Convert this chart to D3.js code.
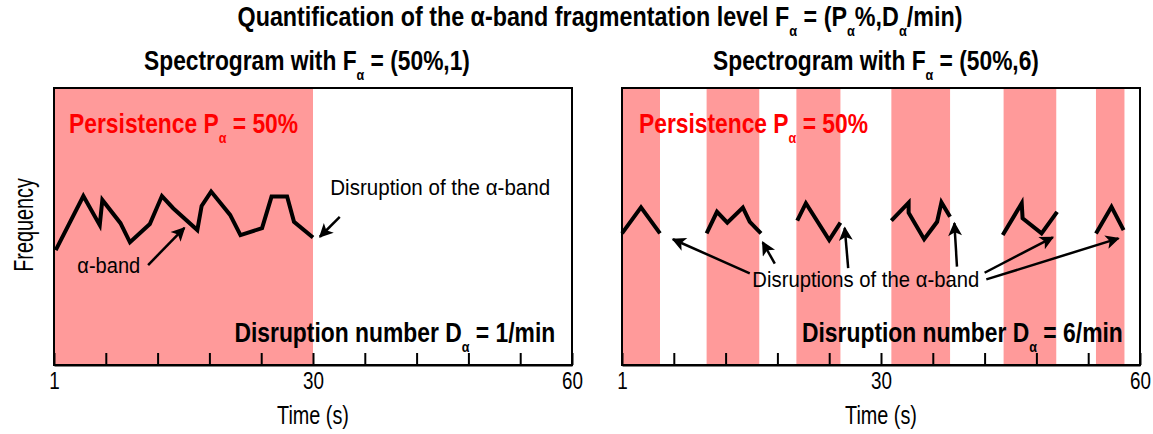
<!DOCTYPE html>
<html>
<head>
<style>
  body { margin: 0; background: #fff; }
  svg text { font-family: "Liberation Sans", Arial, Helvetica, sans-serif; }
</style>
</head>
<body>
<script src="https://d3js.org/d3.v7.min.js"></script>
<script>
// ---- data (time in s, frequency in arbitrary units 0-100) ----
const xTickValues = [0, 6, 12, 18, 24, 30, 36, 42, 48, 54, 60];
const xTickLabels = ['1', '', '', '', '', '30', '', '', '', '', '60'];

// left spectrogram: one continuous alpha band, persistence 0-30 s
const leftPersistStart = [0];
const leftPersistEnd = [30];
const leftTime = [0.2, 3.4, 5.3, 5.6, 7.7, 8.8, 11.1, 12.5, 13.8, 16.6, 17.1, 18.2, 20.4, 21.6, 24.1, 25.2, 27.0, 27.8, 30.0];
const leftFreq = [41.5, 61.0, 50.5, 59.6, 51.2, 44.3, 50.9, 61.0, 56.6, 48.7, 57.4, 62.6, 54.2, 46.9, 49.4, 60.8, 60.8, 51.7, 46.0];

// right spectrogram: six fragments
const rightPersistStart = [0, 9.8, 20.2, 31.2, 44.2, 54.9];
const rightPersistEnd = [4.4, 15.9, 25.3, 38.0, 50.3, 58.2];
const rightSegTime = [
  [0, 2.2, 4.4],
  [9.8, 11.0, 12.2, 14.0, 14.8, 16.1],
  [20.3, 21.3, 24.0, 25.3],
  [31.2, 33.2, 33.2, 35.0, 36.5, 37.0, 38.0],
  [44.1, 46.3, 46.4, 48.6, 50.4],
  [54.9, 56.7, 58.1]
];
const rightSegFreq = [
  [47.5, 56.9, 47.5],
  [47.5, 55.3, 51.4, 56.8, 51.7, 47.5],
  [52.1, 58.4, 45.1, 51.4],
  [52.1, 58.6, 55.0, 45.4, 51.7, 58.7, 53.5],
  [46.9, 58.4, 53.0, 47.5, 55.3],
  [47.5, 57.1, 48.7]
];

// annotation arrows: [tailT, tailF, tipT, tipF]
const leftArrows = [[10.9, 36.1, 15.1, 49.5], [33.1, 53.5, 30.8, 46.3]];
const rightArrows = [
  [14.8, 33.1, 5.9, 45.4],
  [17.7, 36.6, 16.3, 44.3],
  [26.2, 35.0, 25.8, 49.5],
  [38.8, 35.5, 38.5, 51.2],
  [42.0, 33.3, 49.9, 46.1],
  [42.2, 30.9, 57.5, 45.7]
];

const title = ['Quantification of the α-band fragmentation level F', '_α', ' = (P', '_α', '%,D', '_α', '/min)'];

// ---- layout ----
const W = 1153, H = 434;
const plotW = 518, plotH = 277, plotTop = 88;
const pink = '#ff9a9a';

const svg = d3.select('body').append('svg')
  .attr('width', W).attr('height', H);

svg.append('defs').append('marker')
  .attr('id', 'head')
  .attr('viewBox', '0 0 10 10')
  .attr('refX', 9).attr('refY', 5)
  .attr('markerWidth', 18).attr('markerHeight', 14)
  .attr('markerUnits', 'userSpaceOnUse')
  .attr('orient', 'auto')
  .append('path')
  .attr('d', 'M0,0L10,5L0,10L2.5,5z')
  .attr('fill', '#000');

const x = d3.scaleLinear().domain([0, 60]).range([0, plotW]);
const y = d3.scaleLinear().domain([0, 100]).range([plotH, 0]);

// text with subscripts, squeezed to a target width
function richText(parent, parts, opt) {
  const t = parent.append('text')
    .attr('x', 0).attr('y', 0)
    .attr('font-size', opt.size)
    .attr('font-weight', opt.bold ? 'bold' : 'normal')
    .attr('fill', opt.fill || '#000')
    .attr('text-anchor', opt.anchor || 'start');
  let down = false;
  const sd = opt.size * 0.36;
  parts.forEach(p => {
    const sub = p[0] === '_';
    const s = t.append('tspan').text(sub ? p.slice(1) : p);
    if (sub) { s.attr('font-size', opt.size * 0.55).attr('dy', sd); down = true; }
    else if (down) { s.attr('dy', -sd); down = false; }
  });
  const w = t.node().getBBox().width;
  const k = opt.width ? opt.width / w : 1;
  t.attr('transform', `translate(${opt.x},${opt.y})${opt.rotate ? ' rotate(' + opt.rotate + ')' : ''} scale(${k},1)`);
  return t;
}

richText(svg, title, { x: 600, y: 26, size: 27, bold: true, anchor: 'middle', width: 725 });

const panels = [
  {
    left: 54, sub: '1', bandsStart: leftPersistStart, bandsEnd: leftPersistEnd,
    segT: [leftTime], segF: [leftFreq], arrows: leftArrows,
    subtitleX: 307, dnX: 20.9, pX: 1.75,
    note: { parts: ['Disruption of the α-band'], t: 32.0, f: 61.4, width: 220 },
    note2: { parts: ['α-band'], t: 2.7, f: 33.2, width: 63 }
  },
  {
    left: 622, sub: '6', bandsStart: rightPersistStart, bandsEnd: rightPersistEnd,
    segT: rightSegTime, segF: rightSegFreq, arrows: rightArrows,
    subtitleX: 876, dnX: 20.85, pX: 1.97,
    note: { parts: ['Disruptions of the α-band'], t: 15.1, f: 28.2, width: 227 }
  }
];

panels.forEach(p => {
  richText(svg, ['Spectrogram with F', '_α', ' = (50%,' + p.sub + ')'],
    { x: p.subtitleX, y: 70, size: 27, bold: true, anchor: 'middle', width: 326 });

  const g = svg.append('g').attr('transform', `translate(${p.left},${plotTop})`);

  g.selectAll('rect.band')
    .data(p.bandsStart.map((s, i) => [s, p.bandsEnd[i]]))
    .join('rect')
    .attr('class', 'band')
    .attr('x', d => x(d[0]))
    .attr('width', d => x(d[1]) - x(d[0]))
    .attr('y', 0).attr('height', plotH)
    .attr('fill', pink);

  const line = d3.line().x(d => x(d[0])).y(d => y(d[1]));
  g.selectAll('path.alpha')
    .data(p.segT.map((ts, i) => ts.map((t, j) => [t, p.segF[i][j]])))
    .join('path')
    .attr('class', 'alpha')
    .attr('d', line)
    .attr('fill', 'none')
    .attr('stroke', '#000')
    .attr('stroke-width', 4)
    .attr('stroke-linejoin', 'miter');

  const axis = g.append('g')
    .attr('transform', `translate(0,${plotH})`)
    .call(d3.axisBottom(x)
      .tickValues(xTickValues)
      .tickFormat((d, i) => xTickLabels[i])
      .tickSizeInner(-12)
      .tickSizeOuter(0)
      .tickPadding(8));
  axis.select('.domain').attr('stroke', '#000').attr('stroke-width', 2);
  axis.selectAll('.tick line').attr('stroke', '#000').attr('stroke-width', 2);
  axis.selectAll('.tick text')
    .attr('font-size', 23)
    .attr('fill', '#000')
    .attr('font-family', '"Liberation Sans", Arial, sans-serif')
    .attr('transform', 'scale(0.82,1)');

  g.append('rect')
    .attr('x', 0).attr('y', 0).attr('width', plotW).attr('height', plotH)
    .attr('fill', 'none').attr('stroke', '#000').attr('stroke-width', 2);

  richText(g, ['Time (s)'], { x: x(30), y: plotH + 59, size: 25, anchor: 'middle', width: 72 });

  richText(g, ['Persistence P', '_α', ' = 50%'],
    { x: x(p.pX), y: y(83.75), size: 27, bold: true, fill: '#ff0000', width: 229 });

  richText(g, ['Disruption number D', '_α', ' = ' + p.sub + '/min'],
    { x: x(p.dnX), y: y(8.3), size: 28, bold: true, width: 321 });

  [p.note, p.note2].filter(Boolean).forEach(n => {
    richText(g, n.parts, { x: x(n.t), y: y(n.f), size: 22, width: n.width });
  });

  g.selectAll('line.arrow')
    .data(p.arrows)
    .join('line')
    .attr('class', 'arrow')
    .attr('x1', d => x(d[0])).attr('y1', d => y(d[1]))
    .attr('x2', d => x(d[2])).attr('y2', d => y(d[3]))
    .attr('stroke', '#000')
    .attr('stroke-width', 2.5)
    .attr('marker-end', 'url(#head)');
});

richText(svg, ['Frequency'], { x: 33, y: 225, size: 27, anchor: 'middle', rotate: -90, width: 94 });
</script>
</body>
</html>
